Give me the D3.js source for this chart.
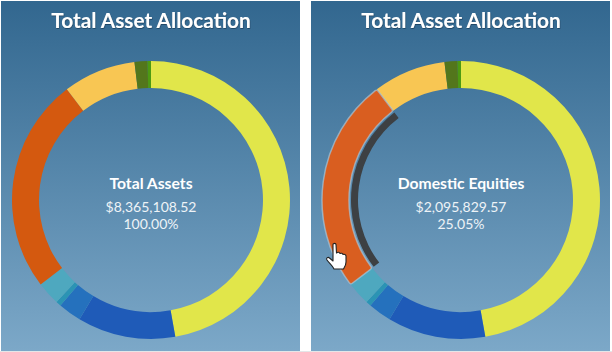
<!DOCTYPE html>
<html><head>
<meta charset="utf-8">
<title>Total Asset Allocation</title>
<script src="https://d3js.org/d3.v7.min.js"></script>
<style>
  html, body { margin: 0; padding: 0; background: #fff; }
  svg { display: block; }
  text { font-family: Lato, sans-serif; fill: #fff; text-anchor: middle; }
  .title { font-size: 20.8px; font-weight: 700; filter: url(#shadow); }
  .name { font-size: 15.7px; font-weight: 700; }
  .amount { font-size: 14px; fill: #eef3f7; }
</style>
</head>
<body>
<svg id="chart" width="612" height="352"></svg>

<script>
  const categories = ["Fixed Income", "Short Bonds", "Mid Bonds", "Cash", "International", "Domestic Equities", "Real Estate", "Alternatives", "Other"];
  const shares = [47.2, 11.4, 2.7, 0.6, 2.7, 25.05, 8.45, 1.5, 0.4];
  const colors = ["#e1e64a", "#1f5bb8", "#2571bd", "#2b94b4", "#4ea8bf", "#d4590f", "#f8c653", "#53761c", "#4d9a12"];

  const centerNames = ["Total Assets", "Domestic Equities"];
  const centerAmounts = ["$8,365,108.52", "$2,095,829.57"];
  const centerPercents = ["100.00%", "25.05%"];
  const highlighted = [null, "Domestic Equities"];

  const svg = d3.select("#chart");
  const panelWidth = 299, panelHeight = 350, panelTop = 1;
  const panelLefts = [1, 311];
  const outer = 139, inner = 112;

  const defs = svg.append("defs");
  const grad = defs.append("linearGradient").attr("id", "bg").attr("x1", 0).attr("y1", 0).attr("x2", 0).attr("y2", 1);
  grad.append("stop").attr("offset", "0%").attr("stop-color", "#32678f");
  grad.append("stop").attr("offset", "100%").attr("stop-color", "#7ca8c8");

  const shadow = defs.append("filter").attr("id", "shadow").attr("x", "-5%").attr("y", "-20%").attr("width", "110%").attr("height", "140%");
  shadow.append("feDropShadow").attr("dx", 0.5).attr("dy", 1).attr("stdDeviation", 0.6).attr("flood-color", "#1c3f5c").attr("flood-opacity", 0.8);

  const pie = d3.pie().sort(null).value(d => d.share);
  const rows = categories.map((c, i) => ({ name: c, share: shares[i], color: colors[i] }));
  const arcs = pie(rows);
  const arc = d3.arc().innerRadius(inner).outerRadius(outer);
  const hoverArc = d3.arc().innerRadius(inner).outerRadius(outer).cornerRadius(2);
  const trackArc = d3.arc().innerRadius(inner - 9).outerRadius(inner - 2);

  // thin grey edge under both panels
  svg.append("rect").attr("x", 0).attr("y", 351).attr("width", 612).attr("height", 1).attr("fill", "#e4e6e8");

  panelLefts.forEach((left, p) => {
    const panel = svg.append("g").attr("transform", "translate(" + left + "," + panelTop + ")");
    panel.append("rect").attr("width", panelWidth).attr("height", panelHeight).attr("fill", "url(#bg)");

    panel.append("text").attr("class", "title").attr("x", 150).attr("y", 27).text("Total Asset Allocation");

    const ring = panel.append("g").attr("transform", "translate(150,199)");

    ring.selectAll("path.slice").data(arcs.filter(d => d.data.name !== highlighted[p]))
      .join("path")
      .attr("class", "slice")
      .attr("fill", d => d.data.color)
      .attr("d", arc);

    // The hovered slice gets a pale outline and a dark track on its inner side
    arcs.filter(d => d.data.name === highlighted[p]).forEach(d => {
      ring.append("path").attr("d", trackArc(d)).attr("fill", "#3d4043");
      ring.append("path").attr("d", hoverArc(d))
        .attr("fill", "#d95e20")
        .attr("stroke", "#a9cbe0")
        .attr("stroke-opacity", 0.65)
        .attr("stroke-width", 1.5);
    });

    panel.append("text").attr("class", "name").attr("x", 150).attr("y", 188).text(centerNames[p]);
    panel.append("text").attr("class", "amount").attr("x", 150).attr("y", 211).text(centerAmounts[p]);
    panel.append("text").attr("class", "amount").attr("x", 150).attr("y", 228).text(centerPercents[p]);
  });

  // Hand cursor over the hovered slice
  svg.append("path")
    .attr("transform", "translate(326,243)")
    .attr("d", "M7 1.5 C7 0 10 0 10 1.5 L10.5 10 C11.5 9 13.5 9 14 10.5 C15 10 16.5 10 17 11.5 C18 11 20 11.5 20 13 L20 19 C20 22 18.5 24 17.5 26 L8 26 C7 23 3 20 1 17 C0 15 2 13.5 3.5 15 L7 18 Z")
    .attr("fill", "#fff")
    .attr("stroke", "#222")
    .attr("stroke-width", 1.1)
    .attr("stroke-linejoin", "round");
</script>
</body></html>
